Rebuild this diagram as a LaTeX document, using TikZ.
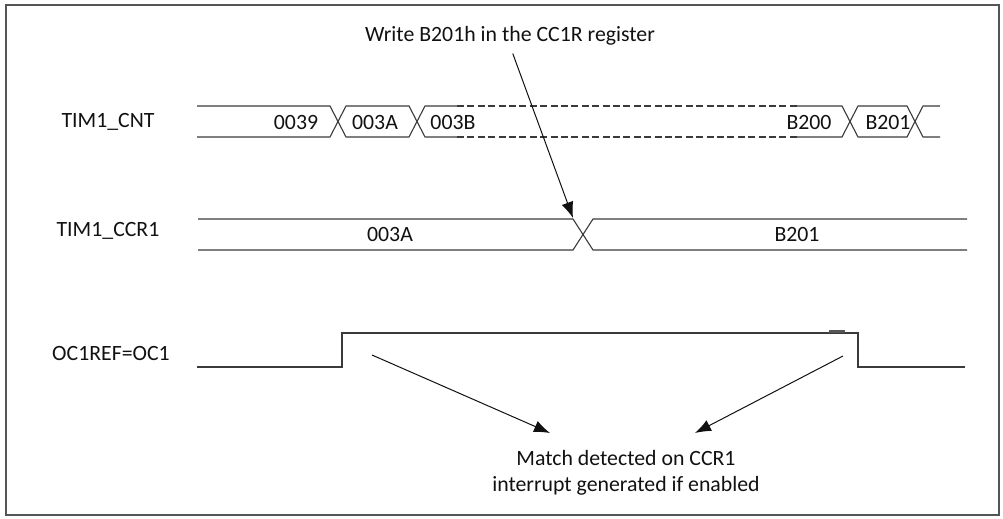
\documentclass[tikz,border=0pt]{standalone}
\usepackage{fontspec}
\setmainfont{Carlito}
\usetikzlibrary{arrows.meta}
\definecolor{TimLine}{HTML}{3A3A3A}
\definecolor{TimFrame}{HTML}{555555}
\definecolor{TimText}{HTML}{111111}

\begin{document}
\begin{tikzpicture}[x=0.5pt,y=-0.5pt,line width=0.55pt,
    lbl/.style={font=\fontsize{10.9}{13}\selectfont,text=TimText,inner sep=0pt},
    arr/.style={-{Latex[length=8pt,width=6pt]},line width=0.5pt,TimText}]
    \useasboundingbox (0,0) rectangle (1003,519);
    \draw[TimFrame,line width=0.8pt] (6,5) rectangle (999,515);
    % signal names
    \node[lbl] (cnt)  at (108,122) {TIM1\_CNT};
    \node[lbl] (ccr)  at (108,231) {TIM1\_CCR1};
    \node[lbl] (oref) at (111,354) {OC1REF=OC1};
    % counter bus
    \draw[TimLine] (197,106)--(330,106)--(338,121.5)--(330,137)--(197,137);
    \draw[TimLine] (338,121.5)--(346,106)--(409,106)--(417,121.5)--(409,137)--(346,137)--cycle;
    \draw[TimLine] (457,106)--(425,106)--(417,121.5)--(425,137)--(457,137);
    \draw[TimLine,line width=1pt,dash pattern=on 3.5pt off 1.7pt]
      (457,106)--(797,106) (457,137)--(797,137);
    \draw[TimLine] (797,106)--(842,106)--(850,121.5)--(842,137)--(797,137);
    \draw[TimLine] (850,121.5)--(858,106)--(907,106)--(915,121.5)--(907,137)--(858,137)--cycle;
    \draw[TimLine] (940,106)--(923,106)--(915,121.5)--(923,137)--(940,137);
    \foreach \x/\v/\n in {296/0039/a,375/003A/b,453/003B/c,809/B200/d,888/B201/e}{
      \node[lbl] (cnt\n) at (\x,122.5) {\v};
    }
    % compare register bus
    \draw[TimLine] (198,219)--(573,219)--(583,234.5)--(573,250)--(198,250);
    \draw[TimLine] (967,219)--(593,219)--(583,234.5)--(593,250)--(967,250);
    \coordinate (wr) at (573,218);
    \node[lbl] (ccra) at (390,234.5) {003A};
    \node[lbl] (ccrb) at (797,234.5) {B201};
    % output reference
    \draw[TimLine] (197,367)--(342,367)--(342,333)--(858,333)--(858,367)--(965,367);
    \draw[TimFrame,line width=1.2pt] (829,331.5)--(845,331.5);
    % annotations
    \node[lbl] (title) at (510,36) {Write B201h in the CC1R register};
    \draw[arr,shorten <=4pt] (title.south) -- (wr);
    \node[lbl,align=center] (match) at (626,473)
      {Match detected on CCR1\\interrupt generated if enabled};
    \coordinate (upL) at (372,355);
    \coordinate (upR) at (843,356);
    \coordinate (hitL) at (550,433);
    \coordinate (hitR) at (695,433);
    \draw[arr] (upL) -- (hitL);
    \draw[arr] (upR) -- (hitR);
\end{tikzpicture}
\end{document}
